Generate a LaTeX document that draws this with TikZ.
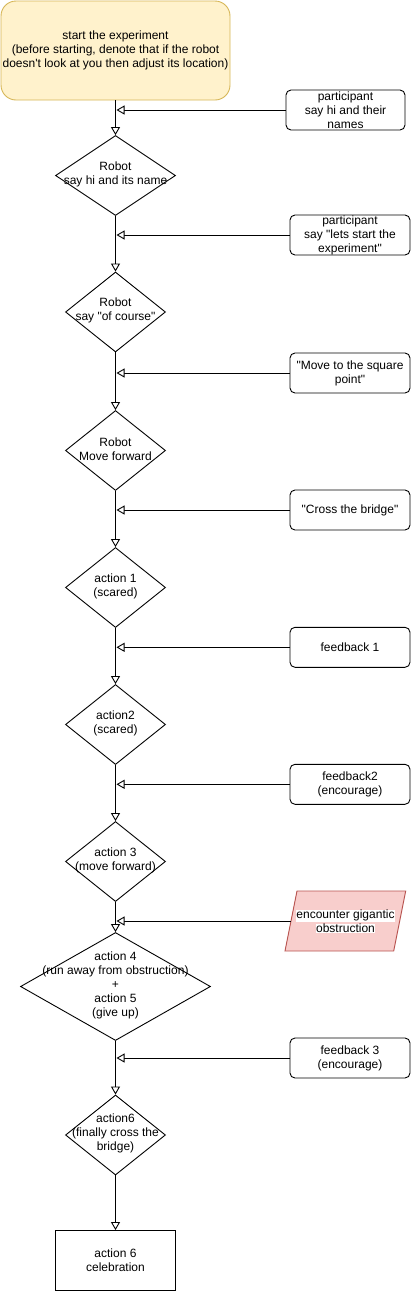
\documentclass[tikz,border=0pt]{standalone}
\usepackage{fontspec}
\setmainfont{Liberation Sans}[Ligatures=TeXOff]
\usetikzlibrary{shapes.geometric,arrows.meta}
\definecolor{startfill}{HTML}{FFF2CC}
\definecolor{startdraw}{HTML}{D6B656}
\definecolor{obsfill}{HTML}{F8CECC}
\definecolor{obsdraw}{HTML}{B85450}
\begin{document}
\begin{tikzpicture}[x=1pt,y=-1pt, font=\fontsize{12}{14}\selectfont, line width=0.9pt,
  dia/.style={diamond, draw, inner sep=0pt, minimum width=100pt, minimum height=80pt},
  dtext/.style={align=center, inner sep=0pt, yshift=1.5pt},
  sbox/.style={rectangle, rounded corners=5pt, draw, minimum width=120pt, minimum height=40pt, inner sep=0pt, align=center},
  flow/.style={-{Triangle[open,length=8pt,width=9pt,fill=white]}},
]
\useasboundingbox (0,0) rectangle (411,1291);

% start
\node[rectangle, rounded corners=15pt, fill=startfill, draw=startdraw, minimum width=229pt, minimum height=99pt, inner sep=0pt, align=center]
  (start) at (115.5,50.5) {start the experiment\\(before starting, denote that if the robot\\doesn't look at you then adjust its location)};

% diamonds
\node[dia, minimum width=120pt] (d1) at (115.5,175.5) {};
\node[dia] (d2) at (115.5,312) {};
\node[dia] (d3) at (115.5,450.5) {};
\node[dia] (d4) at (115.5,587.5) {};
\node[dia] (d5) at (115.5,724.5) {};
\node[dia] (d6) at (115.5,861.5) {};
\node[dia, minimum width=190pt, minimum height=108pt] (d7) at (115.5,986.5) {};
\node[dia] (d8) at (115.5,1135) {};
\node[dtext] (d1t) at (d1) {Robot\\say hi and its name};
\node[dtext] (d2t) at (d2) {Robot\\say "of course"};
\node[dtext] (d3t) at (d3) {Robot\\Move forward};
\node[dtext] (d4t) at (d4) {action 1\\(scared)};
\node[dtext] (d5t) at (d5) {action2\\(scared)};
\node[dtext] (d6t) at (d6) {action 3\\(move forward)};
\node[dtext] (d7t) at (d7) {action 4\\(run away from obstruction)\\+\\action 5\\(give up)};
\node[dtext] (d8t) at (d8) {action6\\(finally cross the\\bridge)};
\node[rectangle, draw, minimum width=120pt, minimum height=60pt, inner sep=0pt, align=center] (end) at (115.5,1260.5) {action 6\\celebration};

% side boxes
\node[sbox, minimum width=119pt] (p1) at (345.5,110) {participant\\say hi and their\\names};
\node[sbox] (p2) at (350,235) {participant\\say "lets start the\\experiment"};
\node[sbox] (p3) at (350,373) {"Move to the square\\point"};
\node[sbox] (p4) at (350,510) {"Cross the bridge"};
\node[sbox] (p5) at (350,647.3) {feedback 1};
\node[sbox] (p6) at (350,784.3) {feedback2\\(encourage)};
\node[sbox] (p7) at (350,1058) {feedback 3\\(encourage)};

% parallelogram
\draw[fill=obsfill, draw=obsdraw] (285,951) -- (297,891) -- (405.7,891) -- (393.7,951) -- cycle;
\coordinate (obsL) at (291,921);
\node[inner sep=0pt, align=center] (obs) at (345.5,921.5) {\setlength\fboxsep{0.5pt}\colorbox{white}{encounter gigantic}\\\setlength\fboxsep{0.5pt}\colorbox{white}{obstruction}};

% targets on the main line
\coordinate (h1) at (116.5,110);
\coordinate (h2) at (116.5,235);
\coordinate (h3) at (116.5,373);
\coordinate (h4) at (116.5,510);
\coordinate (h5) at (116.5,647.3);
\coordinate (h6) at (116.5,784.3);
\coordinate (h7) at (116.5,921);
\coordinate (h8) at (116.5,1058);

% vertical flow
\draw[flow] (start.south) -- (d1.north);
\draw[flow] (d1.south) -- (d2.north);
\draw[flow] (d2.south) -- (d3.north);
\draw[flow] (d3.south) -- (d4.north);
\draw[flow] (d4.south) -- (d5.north);
\draw[flow] (d5.south) -- (d6.north);
\draw[flow] (d6.south) -- (d7.north);
\draw[flow] (d7.south) -- (d8.north);
\draw[flow] (d8.south) -- (end.north);

% horizontal inputs
\draw[flow] (p1.west) -- (h1);
\draw[flow] (p2.west) -- (h2);
\draw[flow] (p3.west) -- (h3);
\draw[flow] (p4.west) -- (h4);
\draw[flow] (p5.west) -- (h5);
\draw[flow] (p6.west) -- (h6);
\draw[flow] (obsL) -- (h7);
\draw[flow] (p7.west) -- (h8);
\end{tikzpicture}
\end{document}
